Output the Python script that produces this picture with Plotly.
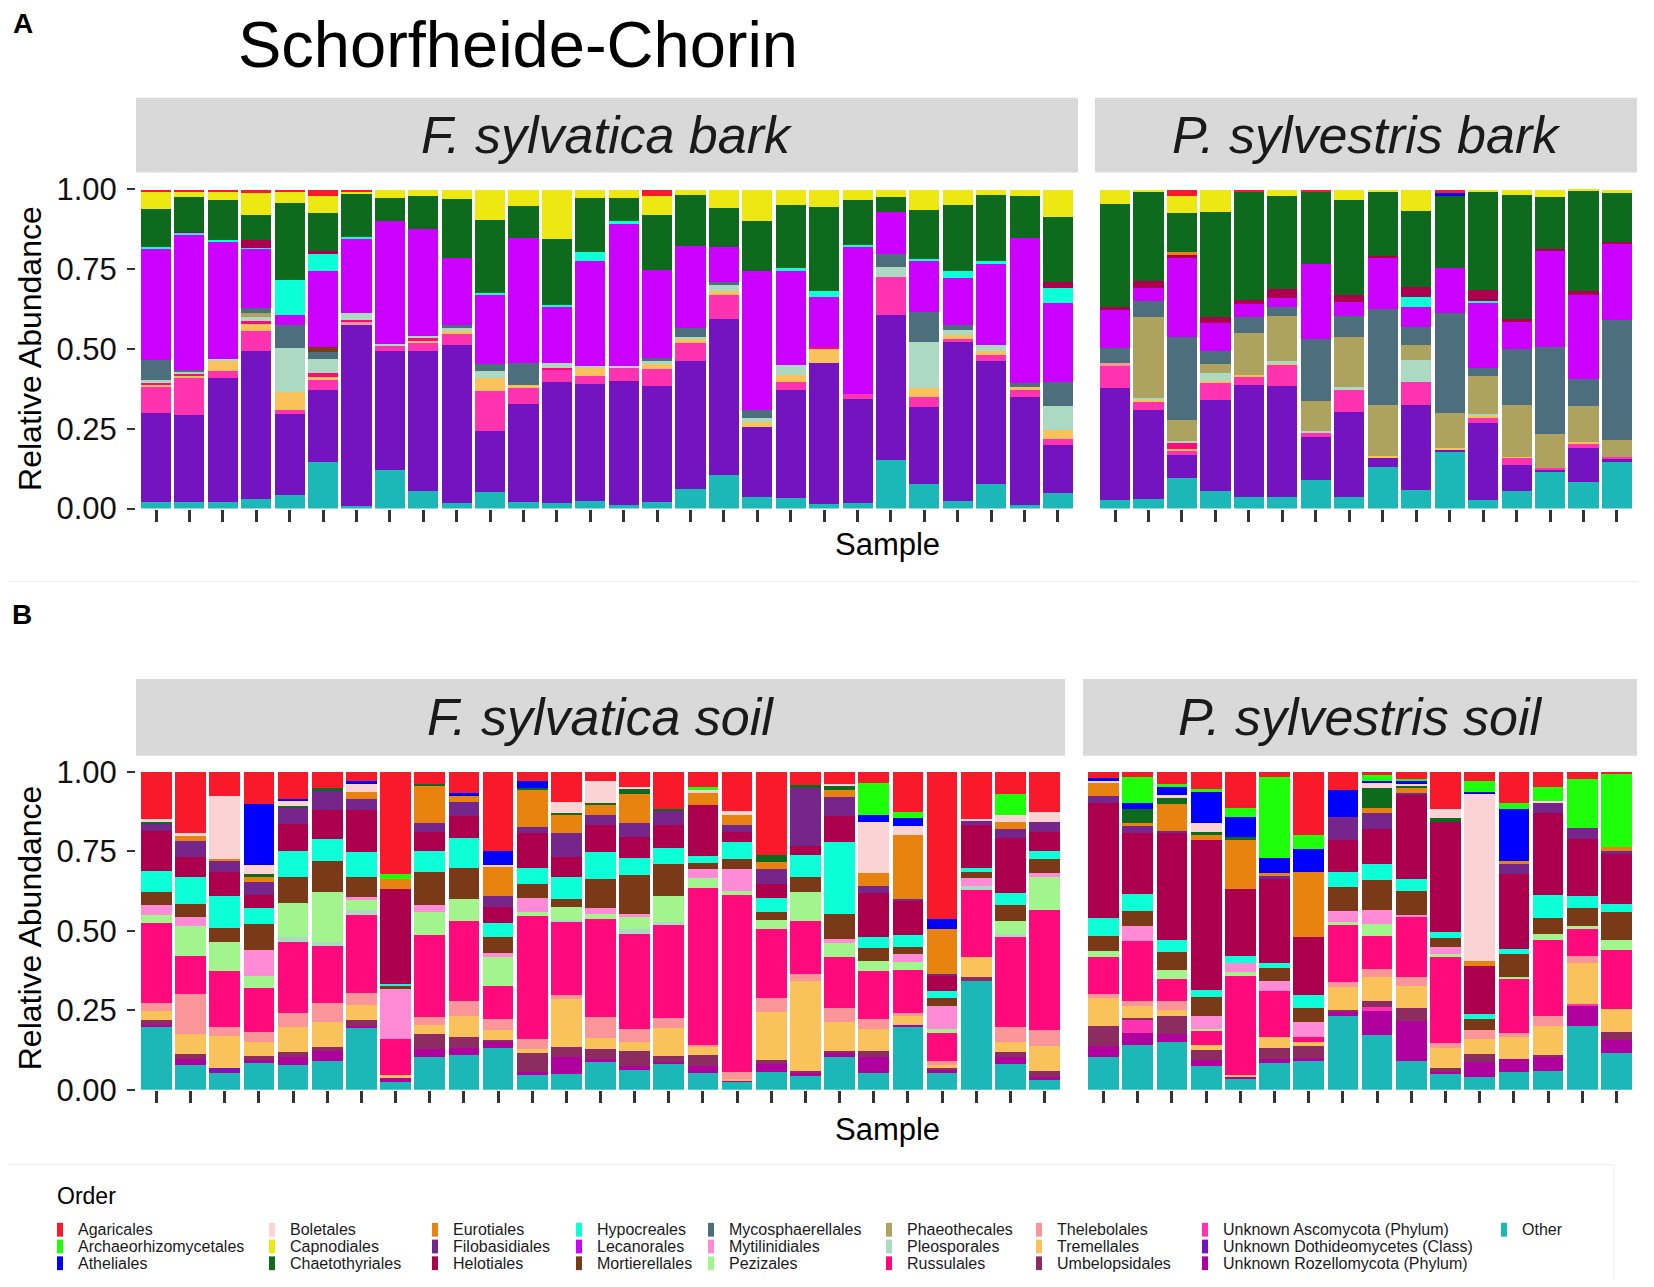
import plotly.graph_objects as go

# the page adds an 8px body margin, positions below are window pixels
W, H = 1630, 1290
OFF = 8
FONT = "Liberation Sans, Arial, sans-serif"

# legend order (column-wise, 3 rows)
ORDERS = [
    "Agaricales", "Archaeorhizomycetales", "Atheliales",
    "Boletales", "Capnodiales", "Chaetothyriales",
    "Eurotiales", "Filobasidiales", "Helotiales",
    "Hypocreales", "Lecanorales", "Mortierellales",
    "Mycosphaerellales", "Mytilinidiales", "Pezizales",
    "Phaeothecales", "Pleosporales", "Russulales",
    "Thelebolales", "Tremellales", "Umbelopsidales",
    "Unknown Ascomycota (Phylum)", "Unknown Dothideomycetes (Class)",
    "Unknown Rozellomycota (Phylum)", "Other",
]
COLORS = {
    "Agaricales": "#F8192B", "Archaeorhizomycetales": "#1EFF0A",
    "Atheliales": "#0000FF", "Boletales": "#FBD3D4",
    "Capnodiales": "#EEE812", "Chaetothyriales": "#0E6B1E",
    "Eurotiales": "#E8830F", "Filobasidiales": "#76258A",
    "Helotiales": "#AC004E", "Hypocreales": "#0CFFD6",
    "Lecanorales": "#CC00FF", "Mortierellales": "#7A3A18",
    "Mycosphaerellales": "#4D6E7C", "Mytilinidiales": "#FF8AD6",
    "Pezizales": "#A2F58C", "Phaeothecales": "#ADA25E",
    "Pleosporales": "#ACD9C1", "Russulales": "#FF0A7D",
    "Thelebolales": "#FA959A", "Tremellales": "#F9C25A",
    "Umbelopsidales": "#8C2C60", "Unknown Ascomycota (Phylum)": "#FF33B0",
    "Unknown Dothideomycetes (Class)": "#7414C0",
    "Unknown Rozellomycota (Phylum)": "#B0009E", "Other": "#1CB8B8",
}
# bottom -> top stacking
STACK = ["Other"] + ORDERS[:-1][::-1]

# ---------- A: F. sylvatica bark (28 samples) ----------
fsb_other = [0.023, 0.023, 0.023, 0.031, 0.045, 0.146, 0.010, 0.123, 0.057, 0.019, 0.052, 0.021, 0.019, 0.026,
             0.014, 0.023, 0.063, 0.108, 0.039, 0.033, 0.016, 0.019, 0.154, 0.078, 0.024, 0.078, 0.013, 0.050]
fsb_dotho = [0.277, 0.270, 0.387, 0.465, 0.253, 0.225, 0.568, 0.371, 0.437, 0.496, 0.191, 0.308, 0.380, 0.366,
             0.390, 0.362, 0.400, 0.488, 0.217, 0.341, 0.441, 0.326, 0.455, 0.243, 0.501, 0.387, 0.337, 0.151]
fsb_unkasco = [0.081, 0.115, 0.024, 0.063, 0.013, 0.033, 0, 0.016, 0.026, 0.032, 0.128, 0.050, 0.038, 0.026,
               0.040, 0.054, 0.056, 0.075, 0, 0.023, 0, 0.016, 0.119, 0.031, 0.007, 0.019, 0.023, 0.019]
fsb_thele = [0, 0, 0, 0, 0, 0, 0.006, 0, 0, 0, 0, 0, 0, 0,
             0, 0, 0, 0, 0, 0, 0, 0, 0, 0, 0, 0, 0, 0]
fsb_tremel = [0.008, 0.007, 0.031, 0.023, 0.057, 0.010, 0, 0, 0.009, 0.010, 0.039, 0.008, 0, 0.023,
              0, 0.016, 0.013, 0.011, 0.016, 0.023, 0.045, 0, 0, 0.026, 0.012, 0.010, 0.008, 0.028]
fsb_russ = [0.007, 0.006, 0, 0.010, 0, 0.011, 0.007, 0, 0.005, 0, 0, 0, 0.005, 0,
            0, 0, 0, 0, 0, 0, 0.007, 0, 0, 0, 0, 0, 0, 0]
fsb_pleo = [0.008, 0.007, 0.005, 0.012, 0.136, 0.044, 0.021, 0.007, 0.007, 0.009, 0.022, 0, 0.015, 0.008,
            0.007, 0.010, 0.007, 0.019, 0.012, 0.031, 0, 0, 0.031, 0.144, 0.017, 0.021, 0, 0.074]
fsb_phaeo = [0, 0, 0, 0.012, 0, 0, 0, 0, 0, 0, 0, 0, 0, 0,
             0, 0, 0, 0, 0, 0, 0, 0, 0, 0, 0, 0, 0, 0]
fsb_myco = [0.063, 0.005, 0, 0.016, 0.074, 0.023, 0, 0, 0, 0.012, 0.023, 0.069, 0, 0,
            0, 0.007, 0.027, 0.009, 0.027, 0, 0, 0, 0.040, 0.094, 0.017, 0, 0.014, 0.078]
fsb_mort = [0, 0, 0, 0, 0, 0.014, 0, 0, 0, 0, 0, 0, 0, 0,
            0, 0, 0, 0, 0, 0, 0, 0, 0, 0, 0, 0, 0, 0]
fsb_lecan = [0.349, 0.423, 0.368, 0.185, 0.030, 0.238, 0.235, 0.385, 0.336, 0.208, 0.217, 0.391, 0.178, 0.329,
             0.449, 0.278, 0.259, 0.110, 0.436, 0.298, 0.155, 0.463, 0.131, 0.162, 0.146, 0.253, 0.454, 0.246]
fsb_hypo = [0.004, 0.004, 0.005, 0.003, 0.110, 0.054, 0.003, 0, 0, 0, 0.005, 0, 0.004, 0.026,
            0.008, 0, 0, 0, 0, 0.006, 0.018, 0.005, 0, 0.005, 0.021, 0.010, 0, 0.046]
fsb_helot = [0, 0.004, 0, 0.026, 0, 0.010, 0, 0, 0, 0, 0, 0, 0, 0,
             0, 0, 0, 0, 0, 0, 0, 0, 0, 0, 0, 0, 0, 0.021]
fsb_chaeto = [0.118, 0.107, 0.124, 0.078, 0.242, 0.117, 0.136, 0.073, 0.104, 0.185, 0.230, 0.101, 0.207, 0.170,
              0.073, 0.170, 0.159, 0.123, 0.157, 0.199, 0.266, 0.141, 0.047, 0.154, 0.208, 0.207, 0.133, 0.204]
fsb_capno = [0.055, 0.016, 0.028, 0.068, 0.035, 0.055, 0.007, 0.025, 0.018, 0.029, 0.093, 0.051, 0.154, 0.025,
             0.025, 0.062, 0.016, 0.056, 0.096, 0.046, 0.052, 0.031, 0.023, 0.063, 0.047, 0.015, 0.018, 0.084]
fsb_agar = [0.006, 0.007, 0.005, 0.010, 0.005, 0.018, 0.005, 0, 0, 0, 0, 0, 0, 0,
            0, 0.018, 0, 0, 0, 0, 0, 0, 0, 0, 0, 0, 0, 0]

# ---------- A: P. sylvestris bark (16 samples) ----------
psb_other = [0.028, 0.031, 0.096, 0.057, 0.039, 0.039, 0.092, 0.037, 0.133, 0.060, 0.178, 0.028, 0.057, 0.117, 0.086, 0.148]
psb_dotho = [0.350, 0.280, 0.074, 0.286, 0.350, 0.348, 0.135, 0.266, 0.029, 0.266, 0.007, 0.241, 0.081, 0.008, 0.104, 0.008]
psb_unkasco = [0.071, 0.023, 0.010, 0.054, 0.024, 0.065, 0.011, 0.070, 0, 0.073, 0, 0.015, 0.022, 0.003, 0.014, 0.007]
psb_thele = [0.007, 0, 0, 0, 0, 0, 0, 0, 0, 0, 0, 0, 0, 0, 0, 0]
psb_tremel = [0, 0.008, 0.007, 0.005, 0.008, 0.004, 0, 0, 0.005, 0, 0.005, 0.010, 0.004, 0, 0.005, 0]
psb_russ = [0, 0, 0.021, 0, 0, 0, 0, 0, 0, 0, 0, 0, 0, 0, 0, 0]
psb_pleo = [0, 0.005, 0.005, 0.023, 0, 0.008, 0.007, 0.008, 0, 0.066, 0, 0.005, 0, 0, 0, 0]
psb_phaeo = [0, 0.253, 0.066, 0.031, 0.130, 0.142, 0.094, 0.159, 0.160, 0.047, 0.111, 0.118, 0.163, 0.107, 0.113, 0.053]
psb_myco = [0.047, 0.050, 0.258, 0.038, 0.052, 0.028, 0.193, 0.066, 0.300, 0.057, 0.312, 0.026, 0.175, 0.274, 0.086, 0.375]
psb_lecan = [0.120, 0.042, 0.249, 0.088, 0.040, 0.027, 0.235, 0.042, 0.162, 0.065, 0.142, 0.204, 0.083, 0.301, 0.264, 0.239]
psb_hypo = [0, 0, 0, 0, 0, 0, 0, 0, 0, 0.031, 0, 0.005, 0, 0, 0, 0]
psb_helot = [0.010, 0.021, 0.010, 0.019, 0.013, 0.028, 0, 0.024, 0.004, 0.031, 0, 0.034, 0.010, 0.005, 0.012, 0.005]
psb_euro = [0, 0, 0.007, 0, 0, 0, 0, 0, 0, 0, 0, 0, 0, 0, 0, 0]
psb_chaeto = [0.322, 0.282, 0.123, 0.329, 0.339, 0.293, 0.227, 0.297, 0.202, 0.236, 0.224, 0.309, 0.389, 0.162, 0.314, 0.155]
psb_capno = [0.044, 0.004, 0.054, 0.070, 0, 0.018, 0, 0.031, 0.005, 0.067, 0, 0.004, 0.016, 0.023, 0.002, 0.009]
psb_athel = [0, 0, 0, 0, 0, 0, 0, 0, 0, 0, 0.012, 0, 0, 0, 0, 0]
psb_agar = [0, 0, 0.018, 0, 0.005, 0, 0.005, 0, 0, 0, 0.008, 0, 0, 0, 0, 0]

# ---------- B: F. sylvatica soil (27 samples) ----------
fss_other = [0.197, 0.080, 0.052, 0.085, 0.080, 0.092, 0.194, 0.024, 0.105, 0.111, 0.131, 0.050, 0.050, 0.087,
             0.063, 0.082, 0.052, 0.026, 0.055, 0.045, 0.103, 0.053, 0.197, 0.053, 0.343, 0.082, 0.031]
fss_rozel = [0.007, 0.018, 0.010, 0.009, 0.025, 0.032, 0.008, 0.014, 0.024, 0.021, 0.019, 0.005, 0.055, 0.010,
             0.014, 0.007, 0.024, 0.005, 0.026, 0.007, 0.012, 0.050, 0.007, 0.009, 0, 0.023, 0.010]
fss_dotho = [0, 0, 0.006, 0, 0, 0, 0, 0, 0, 0, 0, 0, 0, 0,
             0, 0, 0, 0, 0, 0, 0, 0, 0, 0, 0, 0, 0]
fss_umbel = [0.017, 0.016, 0, 0.014, 0.016, 0.010, 0.019, 0, 0.047, 0.036, 0.007, 0.060, 0.031, 0.031,
             0.045, 0.017, 0.035, 0, 0.012, 0.008, 0.008, 0.019, 0, 0.008, 0.013, 0.013, 0.019]
fss_tremel = [0.028, 0.063, 0.102, 0.044, 0.076, 0.079, 0.046, 0.009, 0.028, 0.066, 0.032, 0.014, 0.150, 0.034,
              0.028, 0.088, 0.025, 0.005, 0.153, 0.283, 0.091, 0.070, 0.029, 0.008, 0.061, 0.034, 0.079]
fss_thele = [0.024, 0.126, 0.029, 0.029, 0.045, 0.061, 0.037, 0, 0.024, 0.047, 0.034, 0.031, 0.014, 0.066,
             0.042, 0.031, 0.005, 0.021, 0.044, 0.021, 0.043, 0.031, 0.010, 0.013, 0, 0.045, 0.049]
fss_russ = [0.251, 0.120, 0.175, 0.139, 0.224, 0.178, 0.247, 0.113, 0.259, 0.249, 0.105, 0.387, 0.229, 0.307,
            0.300, 0.293, 0.493, 0.560, 0.215, 0.168, 0.162, 0.152, 0.134, 0.089, 0.211, 0.283, 0.378]
fss_pleo = [0, 0, 0, 0, 0.017, 0.013, 0.013, 0, 0, 0, 0, 0, 0.005, 0,
            0.014, 0.009, 0, 0, 0, 0, 0, 0, 0, 0, 0.014, 0.010, 0]
fss_peziz = [0.026, 0.092, 0.091, 0.039, 0.107, 0.159, 0.033, 0, 0.074, 0.070, 0.089, 0.013, 0.040, 0.018,
             0.039, 0.081, 0.032, 0.012, 0.028, 0.091, 0.044, 0.031, 0.025, 0.013, 0, 0.042, 0.104]
fss_mytil = [0.030, 0.028, 0, 0.081, 0, 0, 0.008, 0.159, 0.020, 0, 0.013, 0.042, 0, 0.018,
             0.008, 0, 0.028, 0.070, 0, 0, 0.010, 0, 0.026, 0.071, 0.023, 0, 0.011]
fss_mort = [0.042, 0.042, 0.042, 0.082, 0.081, 0.097, 0.065, 0.006, 0.105, 0.096, 0.050, 0.045, 0.026, 0.092,
            0.124, 0.102, 0.019, 0.031, 0.027, 0.047, 0.079, 0.039, 0.021, 0.026, 0.021, 0.049, 0.044]
fss_hypo = [0.066, 0.086, 0.103, 0.052, 0.080, 0.068, 0.076, 0.009, 0.066, 0.095, 0.045, 0.050, 0.070, 0.084,
            0.052, 0.049, 0.023, 0.052, 0.042, 0.068, 0.228, 0.035, 0.038, 0.021, 0.012, 0.038, 0.026]
fss_helot = [0.124, 0.063, 0.075, 0.040, 0.086, 0.091, 0.133, 0.296, 0.060, 0.068, 0.049, 0.109, 0.064, 0.086,
             0.065, 0.073, 0.160, 0.034, 0.046, 0.029, 0.079, 0.138, 0.107, 0.047, 0.136, 0.172, 0.060]
fss_filob = [0.026, 0.050, 0.032, 0.039, 0.052, 0.061, 0.035, 0, 0.027, 0.044, 0.037, 0.019, 0.075, 0.029,
             0.045, 0.047, 0, 0.021, 0.045, 0.183, 0.061, 0.024, 0.007, 0.007, 0.012, 0.029, 0.031]
fss_euro = [0, 0.018, 0.007, 0.018, 0, 0, 0.023, 0.031, 0.117, 0.023, 0.091, 0.120, 0.058, 0.035,
            0.093, 0, 0.037, 0.032, 0.024, 0, 0.021, 0.039, 0.200, 0.140, 0, 0.023, 0]
fss_chaeto = [0.005, 0, 0, 0.008, 0.005, 0.008, 0, 0, 0.005, 0, 0, 0.005, 0.005, 0.005,
              0.014, 0.005, 0, 0, 0.020, 0.008, 0.016, 0, 0, 0, 0, 0, 0]
fss_bolet = [0.007, 0.006, 0.199, 0.029, 0.018, 0, 0.024, 0, 0, 0, 0.006, 0, 0.034, 0.068,
             0.007, 0, 0.009, 0.013, 0, 0, 0.005, 0.163, 0.028, 0, 0.005, 0.022, 0.032]
fss_athel = [0, 0, 0, 0.191, 0.005, 0, 0.008, 0, 0, 0.006, 0.042, 0.021, 0, 0,
             0, 0, 0, 0, 0, 0, 0, 0.020, 0.024, 0.034, 0, 0, 0]
fss_archae = [0, 0, 0, 0, 0, 0, 0, 0.018, 0, 0, 0, 0, 0, 0,
              0, 0, 0.012, 0, 0, 0, 0, 0.102, 0.021, 0, 0, 0.065, 0]
fss_agar = [0.149, 0.193, 0.075, 0.102, 0.084, 0.051, 0.030, 0.319, 0.039, 0.067, 0.250, 0.028, 0.094, 0.028,
            0.047, 0.115, 0.046, 0.123, 0.262, 0.041, 0.037, 0.034, 0.125, 0.461, 0.149, 0.070, 0.125]

# ---------- B: P. sylvestris soil (16 samples) ----------
pss_other = [0.103, 0.142, 0.150, 0.074, 0.035, 0.085, 0.092, 0.234, 0.174, 0.092, 0.050, 0.042, 0.055, 0.059, 0.202, 0.115]
pss_rozel = [0.037, 0.036, 0.026, 0.020, 0.005, 0.012, 0.010, 0.010, 0.073, 0.124, 0.008, 0.045, 0.042, 0.044, 0.061, 0.043]
pss_unkasco = [0, 0.042, 0, 0, 0, 0, 0, 0, 0.013, 0, 0, 0, 0, 0, 0.007, 0]
pss_umbel = [0.061, 0.006, 0.058, 0.031, 0, 0.034, 0.037, 0.007, 0.021, 0.042, 0.010, 0.026, 0, 0.008, 0, 0.025]
pss_tremel = [0.088, 0.039, 0.018, 0.017, 0.008, 0.037, 0.013, 0.071, 0.075, 0.070, 0.065, 0.047, 0.068, 0.091, 0.131, 0.071]
pss_thele = [0.012, 0.014, 0.029, 0, 0, 0, 0, 0.016, 0.024, 0.028, 0.016, 0.028, 0.013, 0.031, 0.021, 0]
pss_russ = [0.119, 0.188, 0.068, 0.044, 0.311, 0.144, 0.016, 0.180, 0.105, 0.186, 0.269, 0, 0.171, 0.238, 0.086, 0.186]
pss_peziz = [0.017, 0, 0.029, 0.005, 0.010, 0, 0, 0.010, 0.037, 0, 0.010, 0, 0.005, 0.021, 0.008, 0.030]
pss_mytil = [0, 0.049, 0, 0.042, 0.031, 0.031, 0.047, 0.035, 0.044, 0.008, 0.021, 0, 0, 0, 0, 0]
pss_mort = [0.047, 0.047, 0.057, 0.058, 0, 0.039, 0.042, 0.073, 0.095, 0.076, 0.029, 0.035, 0.073, 0.050, 0.058, 0.087]
pss_hypo = [0.058, 0.053, 0.038, 0.023, 0.021, 0.017, 0.042, 0.049, 0.051, 0.037, 0.019, 0.016, 0.016, 0.070, 0.037, 0.028]
pss_helot = [0.361, 0.191, 0.334, 0.472, 0.209, 0.266, 0.181, 0.099, 0.108, 0.264, 0.345, 0.152, 0.236, 0.258, 0.180, 0.157]
pss_filob = [0.023, 0.023, 0.008, 0, 0, 0.006, 0, 0.073, 0.052, 0.006, 0, 0, 0.031, 0.034, 0.035, 0.008]
pss_euro = [0.042, 0.007, 0.084, 0.016, 0.155, 0.009, 0.204, 0, 0.014, 0.016, 0, 0.014, 0.010, 0, 0, 0.013]
pss_chaeto = [0, 0.045, 0.018, 0.007, 0.009, 0, 0, 0, 0.063, 0.005, 0.011, 0, 0, 0, 0, 0]
pss_bolet = [0.005, 0, 0.010, 0.031, 0, 0, 0, 0, 0.018, 0.010, 0.028, 0.528, 0, 0.005, 0, 0]
pss_athel = [0.010, 0.019, 0.027, 0.097, 0.064, 0.048, 0.075, 0.085, 0.005, 0.005, 0, 0.005, 0.164, 0, 0, 0]
pss_archae = [0, 0.082, 0.007, 0.007, 0.026, 0.255, 0.043, 0, 0.018, 0.007, 0, 0.032, 0.017, 0.042, 0.154, 0.228]
pss_agar = [0.018, 0.016, 0.039, 0.055, 0.114, 0.016, 0.198, 0.057, 0.010, 0.023, 0.117, 0.030, 0.098, 0.049, 0.021, 0.007]

fs_bark = {
    "Other": fsb_other, "Unknown Dothideomycetes (Class)": fsb_dotho,
    "Unknown Ascomycota (Phylum)": fsb_unkasco, "Thelebolales": fsb_thele,
    "Tremellales": fsb_tremel, "Russulales": fsb_russ, "Pleosporales": fsb_pleo,
    "Phaeothecales": fsb_phaeo, "Mycosphaerellales": fsb_myco,
    "Mortierellales": fsb_mort, "Lecanorales": fsb_lecan, "Hypocreales": fsb_hypo,
    "Helotiales": fsb_helot, "Chaetothyriales": fsb_chaeto,
    "Capnodiales": fsb_capno, "Agaricales": fsb_agar,
}
ps_bark = {
    "Other": psb_other, "Unknown Dothideomycetes (Class)": psb_dotho,
    "Unknown Ascomycota (Phylum)": psb_unkasco, "Thelebolales": psb_thele,
    "Tremellales": psb_tremel, "Russulales": psb_russ, "Pleosporales": psb_pleo,
    "Phaeothecales": psb_phaeo, "Mycosphaerellales": psb_myco,
    "Lecanorales": psb_lecan, "Hypocreales": psb_hypo, "Helotiales": psb_helot,
    "Eurotiales": psb_euro, "Chaetothyriales": psb_chaeto,
    "Capnodiales": psb_capno, "Atheliales": psb_athel, "Agaricales": psb_agar,
}
fs_soil = {
    "Other": fss_other, "Unknown Rozellomycota (Phylum)": fss_rozel,
    "Unknown Dothideomycetes (Class)": fss_dotho, "Umbelopsidales": fss_umbel,
    "Tremellales": fss_tremel, "Thelebolales": fss_thele, "Russulales": fss_russ,
    "Pleosporales": fss_pleo, "Pezizales": fss_peziz, "Mytilinidiales": fss_mytil,
    "Mortierellales": fss_mort, "Hypocreales": fss_hypo, "Helotiales": fss_helot,
    "Filobasidiales": fss_filob, "Eurotiales": fss_euro,
    "Chaetothyriales": fss_chaeto, "Boletales": fss_bolet,
    "Atheliales": fss_athel, "Archaeorhizomycetales": fss_archae,
    "Agaricales": fss_agar,
}
ps_soil = {
    "Other": pss_other, "Unknown Rozellomycota (Phylum)": pss_rozel,
    "Unknown Ascomycota (Phylum)": pss_unkasco, "Umbelopsidales": pss_umbel,
    "Tremellales": pss_tremel, "Thelebolales": pss_thele, "Russulales": pss_russ,
    "Pezizales": pss_peziz, "Mytilinidiales": pss_mytil, "Mortierellales": pss_mort,
    "Hypocreales": pss_hypo, "Helotiales": pss_helot, "Filobasidiales": pss_filob,
    "Eurotiales": pss_euro, "Chaetothyriales": pss_chaeto, "Boletales": pss_bolet,
    "Atheliales": pss_athel, "Archaeorhizomycetales": pss_archae,
    "Agaricales": pss_agar,
}


# window pixels -> paper fractions
def px(x):
    return (x - OFF) / W


def py(y):
    return 1 - (y - OFF) / H


# panel geometry in pixels: (x0, x1, y_top, y_zero), strip (top, bottom)
PANELS = [
    ("F. sylvatica bark", fs_bark, "x", "y", (136, 1078, 175, 515), (98, 174)),
    ("P. sylvestris bark", ps_bark, "x2", "y2", (1095, 1637, 175, 515), (98, 174)),
    ("F. sylvatica soil", fs_soil, "x3", "y3", (136, 1065, 766, 1105), (688, 766)),
    ("P. sylvestris soil", ps_soil, "x4", "y4", (1083, 1637, 766, 1105), (688, 766)),
]

fig = go.Figure()
shapes = []
annotations = []

for i, (label, data, xa, ya, box, strip) in enumerate(PANELS):
    n = len(data["Other"])
    samples = list(range(1, n + 1))
    for cat in STACK:
        if cat not in data:
            continue
        fig.add_trace(go.Bar(
            x=samples, y=data[cat], name=cat, width=0.9,
            marker=dict(color=COLORS[cat], line=dict(width=0)),
            xaxis=xa, yaxis=ya, showlegend=False,
        ))
    x0, x1, ytop, yzero = box
    left = i % 2 == 0
    sfx = "" if i == 0 else str(i + 1)
    fig.layout["xaxis" + sfx] = dict(
        domain=[px(x0), px(x1)], range=[0.4, n + 0.6], anchor=ya,
        tickvals=samples, ticktext=[""] * n, ticks="outside",
        ticklen=12, tickwidth=2.5, tickcolor="#333333",
        showgrid=False, zeroline=False, showline=False,
    )
    fig.layout["yaxis" + sfx] = dict(
        domain=[py(yzero), py(ytop)], range=[0, 1.05], anchor=xa,
        tickvals=[0, 0.25, 0.5, 0.75, 1.0],
        ticktext=["0.00", "0.25", "0.50", "0.75", "1.00"] if left else [""] * 5,
        ticks="outside" if left else "", ticklen=8, tickwidth=2.2, tickcolor="#333333",
        ticklabelstandoff=4,
        tickfont=dict(size=31, color="#111111"),
        showgrid=False, zeroline=False, showline=False,
    )
    # facet strip
    shapes.append(dict(type="rect", xref="paper", yref="paper",
                       x0=px(x0), x1=px(x1), y0=py(strip[1]), y1=py(strip[0]),
                       fillcolor="#D9D9D9", line=dict(width=0), layer="below"))
    annotations.append(dict(text="<i>" + label + "</i>", xref="paper", yref="paper",
                            x=px((x0 + x1) / 2), y=py((strip[0] + strip[1]) / 2),
                            showarrow=False, font=dict(size=52, color="#1a1a1a"),
                            xanchor="center", yanchor="middle"))

# titles and axis labels
annotations += [
    dict(text="Schorfheide-Chorin", x=px(518), y=py(44), font=dict(size=65, color="black")),
    dict(text="<b>A</b>", x=px(23), y=py(23), font=dict(size=28, color="black")),
    dict(text="<b>B</b>", x=px(22), y=py(623), font=dict(size=28, color="black")),
    dict(text="Relative Abundance", x=px(30), y=py(353), textangle=-90, font=dict(size=32, color="black")),
    dict(text="Relative Abundance", x=px(30), y=py(941), textangle=-90, font=dict(size=32, color="black")),
    dict(text="Sample", x=px(887), y=py(552), font=dict(size=31, color="black")),
    dict(text="Sample", x=px(887), y=py(1145), font=dict(size=31, color="black")),
    dict(text="Order", x=px(55), y=py(1213), xanchor="left", font=dict(size=23, color="black")),
]
for a in annotations:
    a.setdefault("xref", "paper")
    a.setdefault("yref", "paper")
    a.setdefault("showarrow", False)
    a.setdefault("xanchor", "center")
    a.setdefault("yanchor", "middle")

# faint panel separators
shapes += [
    dict(type="line", xref="paper", yref="paper", x0=0, x1=1, y0=py(589), y1=py(589),
         line=dict(color="#EDEDED", width=1)),
    dict(type="line", xref="paper", yref="paper", x0=0, x1=px(1614), y0=py(1181), y1=py(1181),
         line=dict(color="#EDEDED", width=1)),
    dict(type="line", xref="paper", yref="paper", x0=px(1614), x1=px(1614), y0=0, y1=py(1181),
         line=dict(color="#EDEDED", width=1)),
]

# legend drawn by hand (9 columns x 3 rows, column-wise)
LEG_COLS = [57, 269, 432, 576, 708, 886, 1036, 1202, 1501]
LEG_ROWS = [1247, 1264, 1281]
for k, cat in enumerate(ORDERS):
    cx = LEG_COLS[k // 3]
    cy = LEG_ROWS[k % 3]
    shapes.append(dict(type="rect", xref="paper", yref="paper",
                       x0=px(cx), x1=px(cx + 6), y0=py(cy + 7), y1=py(cy - 7),
                       fillcolor=COLORS[cat], line=dict(width=0)))
    annotations.append(dict(text=cat, xref="paper", yref="paper", x=px(cx + 19), y=py(cy),
                            xanchor="left", yanchor="middle", showarrow=False,
                            font=dict(size=16, color="#1a1a1a")))

fig.update_layout(
    width=W, height=H, autosize=False,
    margin=dict(l=0, r=0, t=0, b=0),
    barmode="stack", barnorm="fraction", bargap=0,
    paper_bgcolor="white", plot_bgcolor="white",
    font=dict(family=FONT, color="black"),
    shapes=shapes, annotations=annotations,
    showlegend=False,
)

fig.write_html("out.html")
